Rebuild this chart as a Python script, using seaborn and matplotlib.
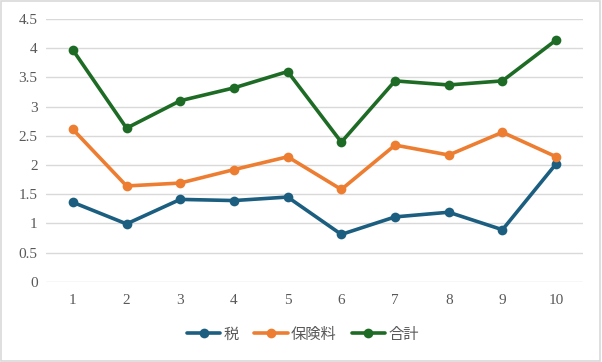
import pandas as pd
import matplotlib.pyplot as plt
import seaborn as sns
from matplotlib.patches import Rectangle

# data
x = [1, 2, 3, 4, 5, 6, 7, 8, 9, 10]
tax = [1.36, 0.99, 1.41, 1.39, 1.45, 0.81, 1.11, 1.19, 0.89, 2.02]
insurance = [2.61, 1.64, 1.69, 1.92, 2.14, 1.58, 2.34, 2.17, 2.56, 2.14]
total = [3.97, 2.63, 3.10, 3.32, 3.60, 2.39, 3.44, 3.37, 3.44, 4.14]
series_names = ["税", "保険料", "合計"]
colors = ["#1B5E80", "#ED7D31", "#1D6B24"]

df = pd.DataFrame({"x": x * 3,
                   "value": tax + insurance + total,
                   "series": [s for s in series_names for _ in x]})

sns.set_style("white")
plt.rcParams["font.family"] = ["Liberation Serif", "Noto Sans CJK JP"]
text_color = "#595959"

fig = plt.figure(figsize=(6.02, 3.62), dpi=100)
ax = fig.add_axes([46 / 602, 1 - 281.7 / 362, 537 / 602, 262.7 / 362])

sns.lineplot(data=df, x="x", y="value", hue="series", palette=colors,
             marker="o", markersize=7, markeredgewidth=0, linewidth=2.6,
             ax=ax, legend=False)

ax.set_xlim(0.5, 10.5)
ax.set_ylim(0, 4.5)
ax.set_xticks(x)
ax.set_yticks([i * 0.5 for i in range(10)])
ax.set_yticklabels(["0", "0.5", "1", "1.5", "2", "2.5", "3", "3.5", "4", "4.5"])
ax.grid(axis="y", color="#D9D9D9", linewidth=1)
ax.set_axisbelow(True)
for s in ax.spines.values():
    s.set_visible(False)
ax.tick_params(length=0, labelsize=11, colors=text_color, pad=6)
ax.tick_params(axis="x", pad=9)
ax.set_xlabel("")
ax.set_ylabel("")

handles = [plt.Line2D([], [], color=c, marker="o", markersize=7,
                      markeredgewidth=0, linewidth=2.6) for c in colors]
fig.legend(handles, series_names, loc="center", bbox_to_anchor=(0.503, 1 - 334 / 362),
           ncol=3, frameon=False, handlelength=2.2,
           columnspacing=1.0, handletextpad=0.2, labelcolor=text_color,
           prop={"family": ["Noto Sans CJK JP"], "size": 11})

fig.patches.append(Rectangle((0.002, 0.003), 0.995, 0.993, transform=fig.transFigure,
                             fill=False, edgecolor="#D9D9D9", linewidth=1.2))

fig.savefig("out.png", dpi=100)
